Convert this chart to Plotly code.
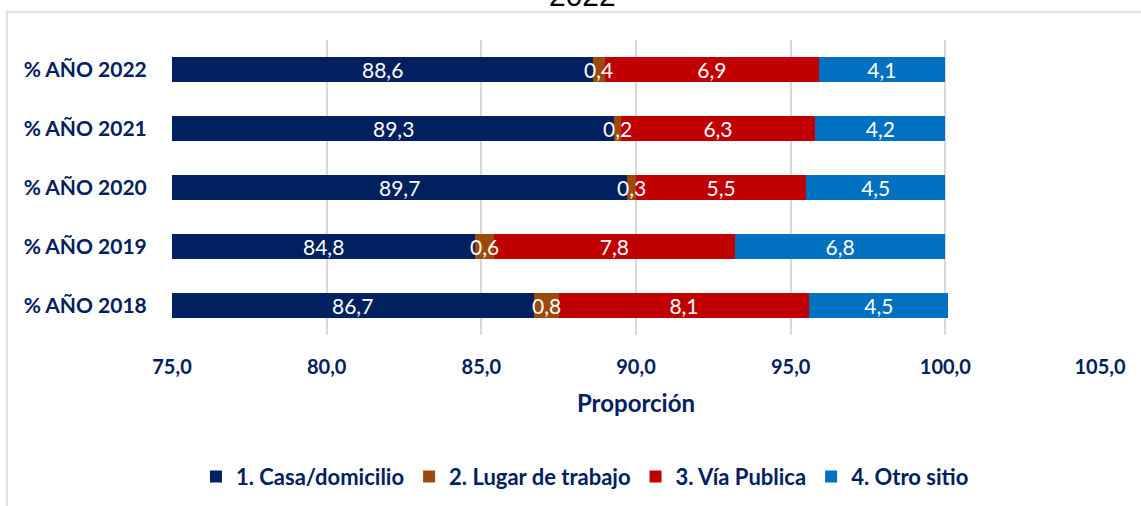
import plotly.graph_objects as go

years = ["% AÑO 2018", "% AÑO 2019", "% AÑO 2020", "% AÑO 2021", "% AÑO 2022"]
casa = [86.7, 84.8, 89.7, 89.3, 88.6]
trabajo = [0.8, 0.6, 0.3, 0.2, 0.4]
via = [8.1, 7.8, 5.5, 6.3, 6.9]
otro = [4.5, 6.8, 4.5, 4.2, 4.1]

x_min, x_max = 75, 105
navy = "#002060"
font = "Lato, 'Open Sans', sans-serif"


def fmt(v):
    return f"{v:.1f}".replace(".", ",")


series = [
    ("1. Casa/domicilio", casa, "#002060"),
    ("2. Lugar de trabajo", trabajo, "#9C4A0C"),
    ("3. Vía Publica", via, "#C00000"),
    ("4. Otro sitio", otro, "#0070C0"),
]

fig = go.Figure()
for name, vals, color in series:
    own_text = vals is via or vals is otro
    fig.add_trace(go.Bar(
        y=years,
        x=vals,
        name=name,
        orientation="h",
        marker=dict(color=color, line=dict(width=0)),
        text=[fmt(v) for v in vals] if own_text else None,
        textposition="inside",
        insidetextanchor="middle",
        textangle=0,
        constraintext="none",
        textfont=dict(color="white", size=21, family=font),
        hoverinfo="skip",
    ))

# navy segment starts at 0, so label it in the middle of the visible part
for y, v in zip(years, casa):
    fig.add_annotation(
        x=(x_min + v) / 2, y=y, xref="x", yref="y",
        text=fmt(v), showarrow=False,
        font=dict(color="white", size=21, family=font),
    )

# small brown segments: labels drawn on top so they are not hidden by the red bars
for y, c, t in zip(years, casa, trabajo):
    fig.add_annotation(
        x=c + t / 2, y=y, xref="x", yref="y",
        text=fmt(t), showarrow=False,
        font=dict(color="white", size=21, family=font),
    )

# title, mostly cut off at the top
fig.add_annotation(
    x=0.442, y=1.087, xref="paper", yref="paper", yanchor="bottom",
    text="2022", showarrow=False,
    font=dict(color="black", size=30, family="Liberation Sans, Arial"),
)

# outer chart border
fig.add_shape(
    type="rect", xref="paper", yref="paper",
    x0=(7 - 172) / 928, x1=(1150 - 172) / 928,
    y0=(335 - 515) / 295, y1=(335 - 12) / 295,
    line=dict(color="#d9d9d9", width=1.5), layer="above",
)

fig.update_layout(
    barmode="stack",
    bargap=0.56,
    width=1141,
    height=506,
    margin=dict(l=172, r=41, t=40, b=171, autoexpand=False),
    paper_bgcolor="white",
    plot_bgcolor="white",
    font=dict(family=font, color=navy),
    xaxis=dict(
        range=[x_min, x_max],
        tickvals=[75, 80, 85, 90, 95, 100, 105],
        ticktext=["75,0", "80,0", "85,0", "90,0", "95,0", "100,0", "105,0"],
        showgrid=True,
        gridcolor="#D9D9D9",
        gridwidth=2,
        zeroline=False,
        showline=False,
        automargin=False,
        ticks="outside",
        ticklen=14,
        tickcolor="rgba(0,0,0,0)",
        tickfont=dict(size=20, color=navy, family=font, weight="bold"),
        title=dict(text="<b>Proporción</b>", font=dict(size=24, color=navy), standoff=18),
    ),
    yaxis=dict(
        categoryorder="array",
        categoryarray=years,
        showgrid=False,
        zeroline=False,
        showline=False,
        automargin=False,
        ticks="outside",
        ticklen=20,
        tickcolor="rgba(0,0,0,0)",
        tickfont=dict(size=21, color=navy, family=font, weight="bold"),
    ),
    legend=dict(
        orientation="h",
        x=0.445, xanchor="center",
        y=-0.48, yanchor="middle",
        traceorder="normal",
        font=dict(size=22, color=navy, family=font, weight="bold"),
        itemwidth=30,
    ),
    showlegend=True,
)

fig.write_html(
    "out.html",
    config={"displayModeBar": False},
    post_script="document.body.style.margin = '0';",
)
